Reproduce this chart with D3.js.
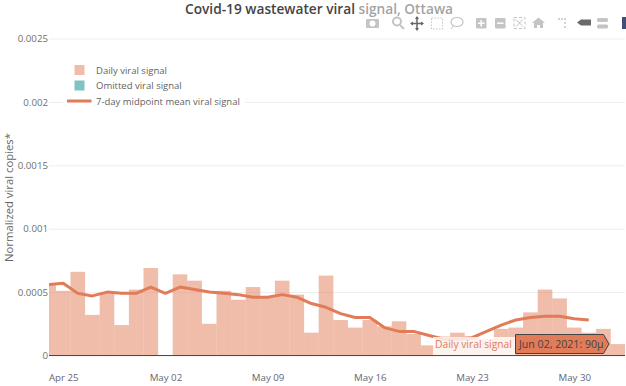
<!DOCTYPE html>
<html><head><meta charset="utf-8">
<script src="https://cdn.jsdelivr.net/npm/d3@7"></script>
<style>
html,body{margin:0;padding:0;background:#fff;overflow:hidden}
text{font-family:"Open Sans",sans-serif}
</style></head><body><svg id="c" width="626" height="386"></svg>
<script>
const startDay = "2021-04-24";
const dailySignal = [0.00056,0.00051,0.00066,0.00032,0.00049,0.00024,0.00052,0.00069,null,0.00064,0.00059,0.00025,0.00051,0.00044,0.00054,0.00046,0.00059,0.00048,0.00018,0.00063,0.00028,0.00022,0.00028,0.00023,0.00027,0.00017,0.00008,0.00015,0.00018,0.00015,0.00013,0.00021,0.00022,0.00034,0.00052,0.00045,0.00022,0.00018,0.00021,0.00009];
const meanSignal = [0.00056,0.00057,0.00049,0.00047,0.0005,0.00049,0.00049,0.00054,0.00049,0.00054,0.00052,0.0005,0.00049,0.00048,0.00046,0.00046,0.00048,0.00046,0.00041,0.00038,0.00033,0.0003,0.0003,0.00022,0.00019,0.00019,0.00016,0.00013,0.00013,0.00014,0.00019,0.00024,0.00028,0.0003,0.00031,0.00031,0.00029,0.00028];
const yTicks = [0,0.0005,0.001,0.0015,0.002,0.0025];
const yTickLabels = ["0","0.0005","0.001","0.0015","0.002","0.0025"];
const xTickDates = ["2021-04-25","2021-05-02","2021-05-09","2021-05-16","2021-05-23","2021-05-30"];
const legendLabels = ["Daily viral signal","Omitted viral signal","7-day midpoint mean viral signal"];
const titleText = "Covid-19 wastewater viral signal, Ottawa";
const hoverLabel = "Daily viral signal";
const hoverValue = "Jun 02, 2021: 90µ";

const svg = d3.select("#c");
const parse = d3.utcParse("%Y-%m-%d");
const day0 = parse(startDay);
const dates = dailySignal.map((_,i)=>d3.utcDay.offset(day0,i));
const L=49,R=625,T=38.5,B=355.5;
const x = d3.scaleUtc().domain([parse("2021-04-25"),parse("2021-05-30")]).range([63.2,574.2]);
const y = d3.scaleLinear().domain([0,0.0025]).range([B,T]);
const bw = x(d3.utcDay.offset(day0,1))-x(day0);

svg.append("clipPath").attr("id","plot").append("rect").attr("x",L).attr("y",T).attr("width",R-L).attr("height",B-T);

// grid and y labels
const yAxis = d3.axisLeft(y).tickValues(yTicks).tickFormat((d,i)=>yTickLabels[i]).tickSize(0).tickPadding(0);
const gy = svg.append("g").attr("transform",`translate(${L},0)`).call(yAxis);
gy.select(".domain").remove();
gy.selectAll("text").attr("x",-1).attr("font-size",9.7).attr("fill","#6f6f6f");
gy.selectAll("g.tick").append("line").attr("x1",0).attr("x2",R-L).attr("stroke","#eeeeee").attr("stroke-width",1);

// x labels
const xAxis = d3.axisBottom(x).tickValues(xTickDates.map(parse)).tickFormat(d3.utcFormat("%b %d")).tickSize(0);
const gx = svg.append("g").attr("transform",`translate(0,${B})`).call(xAxis);
gx.select(".domain").remove();
gx.selectAll("text").attr("y",18.5).attr("font-size",9.7).attr("fill","#666672");

// bars
svg.append("g").attr("clip-path","url(#plot)").selectAll("rect").data(dailySignal.map((v,i)=>({v,d:dates[i]})).filter(d=>d.v!=null)).join("rect")
 .attr("x",d=>x(d.d)-bw/2).attr("width",bw).attr("y",d=>y(d.v)).attr("height",d=>B-y(d.v))
 .attr("fill","#e17b58").attr("fill-opacity",0.5);

// baseline
svg.append("line").attr("x1",L).attr("x2",R).attr("y1",B).attr("y2",B).attr("stroke","#4a4a4a").attr("stroke-width",1);

// mean line
svg.append("path").datum(meanSignal).attr("clip-path","url(#plot)").attr("fill","none")
 .attr("stroke","#e17b58").attr("stroke-width",3).attr("stroke-linejoin","round")
 .attr("d",d3.line().x((d,i)=>x(dates[i])).y(d=>y(d)));

// y title
svg.append("text").attr("transform",`translate(13,197.5) rotate(-90)`).attr("text-anchor","middle").attr("font-size",11.3).attr("fill","#666666").text("Normalized viral copies*");

// legend
const legG = svg.append("g");
legG.append("rect").attr("x",63).attr("y",64).attr("width",182).attr("height",44).attr("fill","#fff");
const legY=[70,85.5,101];
legG.append("rect").attr("x",74.5).attr("y",legY[0]-5).attr("width",10).attr("height",10).attr("fill","#e17b58").attr("fill-opacity",0.5);
legG.append("rect").attr("x",74.5).attr("y",legY[1]-5).attr("width",10).attr("height",10).attr("fill","#83c2c2");
legG.append("line").attr("x1",67).attr("x2",91.5).attr("y1",legY[2]).attr("y2",legY[2]).attr("stroke","#e17b58").attr("stroke-width",3);
legendLabels.forEach((t,i)=>legG.append("text").attr("x",96).attr("y",legY[i]+3.5).attr("font-size",9.5).attr("fill","#5f5f66").text(t));

// hover labels
const h = svg.append("g");
h.append("rect").attr("x",433).attr("y",337).attr("width",82).attr("height",18).attr("fill","#fff").attr("fill-opacity",0.8);
h.append("text").attr("x",435).attr("y",348).attr("font-size",10.3).attr("fill","#e17b58").text(hoverLabel);
h.append("path").attr("d",`M515.5,334.5H603.5L609,344L603.5,353.5H515.5Z`).attr("fill","#e17b58").attr("stroke","#444").attr("stroke-width",1);
h.append("text").attr("x",519).attr("y",348).attr("font-size",10.6).attr("fill","#444").text(hoverValue);

// title
svg.append("text").attr("x",319).attr("y",14).attr("text-anchor","middle").attr("font-size",13.7).attr("font-weight",600).attr("fill","#444").text(titleText);

// modebar
const mb = svg.append("g");
mb.append("rect").attr("x",358).attr("y",0).attr("width",268).attr("height",36).attr("fill","#fff").attr("fill-opacity",0.5);
const c="#c4c4c4";
// camera
mb.append("rect").attr("x",366).attr("y",19).attr("width",13).attr("height",9).attr("rx",1).attr("fill",c);
mb.append("circle").attr("cx",372.5).attr("cy",23.5).attr("r",3).attr("fill","#fff");
// zoom
mb.append("circle").attr("cx",397).attr("cy",21.5).attr("r",4).attr("fill","none").attr("stroke",c).attr("stroke-width",2);
mb.append("line").attr("x1",400).attr("y1",25).attr("x2",404).attr("y2",29).attr("stroke",c).attr("stroke-width",2);
// pan
mb.append("path").attr("d","M417,17V30M411,23.5H423").attr("stroke","#666").attr("stroke-width",1.5);
mb.append("path").attr("d","M417,16l-2,3h4ZM417,31l-2,-3h4ZM410,23.5l3,-2v4ZM424,23.5l-3,-2v4Z").attr("fill","#666");
// box select
mb.append("rect").attr("x",431.5).attr("y",18).attr("width",11).attr("height",11).attr("fill","none").attr("stroke",c).attr("stroke-dasharray","1.5 1.5");
// lasso
mb.append("ellipse").attr("cx",457).attr("cy",22).attr("rx",6).attr("ry",4.5).attr("fill","none").attr("stroke",c).attr("stroke-width",1.2);
mb.append("path").attr("d","M453,26q-1,2 -2,3").attr("stroke",c).attr("fill","none");
// plus/minus
mb.append("rect").attr("x",476).attr("y",18).attr("width",10.5).attr("height",10.5).attr("rx",1).attr("fill",c);
mb.append("path").attr("d","M478,23.2h6.5M481.2,20v6.5").attr("stroke","#fff").attr("stroke-width",1.5);
mb.append("rect").attr("x",495).attr("y",18).attr("width",10.5).attr("height",10.5).attr("rx",1).attr("fill",c);
mb.append("path").attr("d","M497,23.2h6.5").attr("stroke","#fff").attr("stroke-width",1.5);
// autoscale
mb.append("rect").attr("x",514).attr("y",17.5).attr("width",11).attr("height",11).attr("fill","none").attr("stroke",c).attr("stroke-dasharray","3 2");
mb.append("path").attr("d","M516,19.5l7,7M523,19.5l-7,7").attr("stroke",c);
// home
mb.append("path").attr("d","M532,23l6.5,-5.5 6.5,5.5h-2v5h-3v-3h-3v3h-3v-5Z").attr("fill",c);
// spikes
mb.append("path").attr("d","M558,19h2M561,19h2M565,18v2M565,22v2M565,26v2").attr("stroke",c).attr("stroke-width",1.5);
// closest / compare hover
mb.append("path").attr("d","M577,22.5l4,-3h10v6h-10Z").attr("fill","#6a6a6a");
mb.append("rect").attr("x",597).attr("y",18).attr("width",11).attr("height",4).attr("rx",1.5).attr("fill",c);
mb.append("rect").attr("x",597).attr("y",24.5).attr("width",11).attr("height",4).attr("rx",1.5).attr("fill",c);
// logo
mb.append("rect").attr("x",622).attr("y",17).attr("width",4).attr("height",12).attr("fill","#3f4f75");
</script></body></html>
